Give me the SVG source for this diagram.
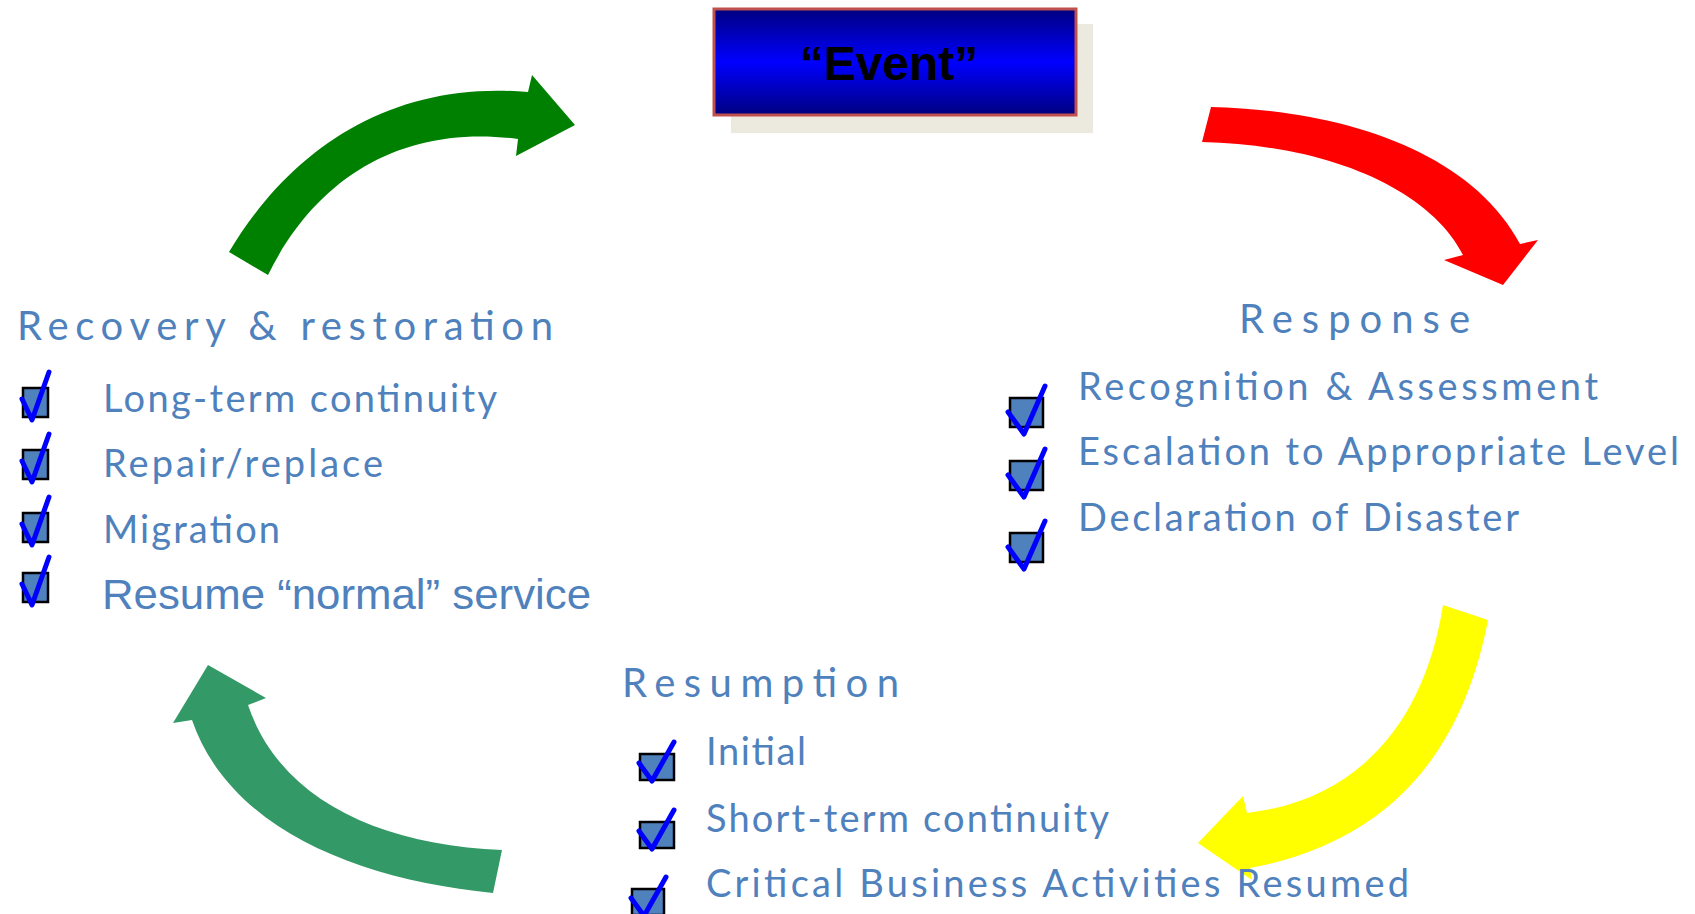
<svg xmlns="http://www.w3.org/2000/svg" width="1695" height="914" viewBox="0 0 1695 914">
<defs>
<linearGradient id="evg" x1="0" y1="0" x2="0" y2="1">
<stop offset="0" stop-color="#000080"/>
<stop offset="0.5" stop-color="#0000FF"/>
<stop offset="1" stop-color="#000080"/>
</linearGradient>
</defs>
<style>
.t{font-family:Lato,"Open Sans","Liberation Sans",sans-serif;fill:#4F81BD;font-size:38px}
.h{font-size:40px}
.a{font-family:"Liberation Sans",Arial,sans-serif;fill:#4F81BD;font-size:43px}
.box{fill:#4F81BD;stroke:#000;stroke-width:2.5}
.chk{fill:none;stroke:#0000FF;stroke-width:5;stroke-linecap:round;stroke-linejoin:round}
</style>
<rect width="1695" height="914" fill="#fff"/>

<g id="connectors">
<path id="arrow-green" fill="#008000" d="M229,252 C290,150 390,80 528,92 L532,75 L575,125 L516,156 L518,139 C410,125 320,170 268,275 Z"/>
<path id="arrow-red" fill="#FF0000" d="M1211,107 C1340,110 1470,150 1520,244 L1538,240 L1503,285 L1444,260 L1463,255 C1430,190 1330,145 1202,142 Z"/>
<path id="arrow-yellow" fill="#FFFF00" d="M1488,620 C1465,740 1400,840 1250,868 L1252,880 L1198,843 L1243,796 L1247,813 C1360,800 1425,720 1443,605 Z"/>
<path id="arrow-seagreen" fill="#339966" d="M493,893 C360,880 230,830 192,720 L173,723 L208,665 L266,698 L248,705 C280,800 380,845 502,850 Z"/>
</g>

<g id="event">
<rect x="731" y="24" width="362" height="109" fill="#ECE9DF"/>
<rect x="714" y="9" width="362" height="106" fill="url(#evg)" stroke="#C0504D" stroke-width="3"/>
<text x="889" y="80" text-anchor="middle" font-family="'Liberation Sans',Arial,sans-serif" font-weight="bold" font-size="48" fill="#000">“Event”</text>
</g>

<g id="recovery">
<text class="t h" x="17" y="340" textLength="536" lengthAdjust="spacing">Recovery &amp; restoration</text>
<rect class="box" x="23" y="388" width="25" height="29"/>
<path class="chk" d="M22,399 L32,420 L49,372"/>
<text class="t" x="103" y="412" textLength="394" lengthAdjust="spacing">Long-term continuity</text>
<rect class="box" x="23" y="450" width="25" height="29"/>
<path class="chk" d="M22,461 L32,482 L49,434"/>
<text class="t" x="103" y="477" textLength="280" lengthAdjust="spacing">Repair/replace</text>
<rect class="box" x="23" y="513" width="25" height="29"/>
<path class="chk" d="M22,524 L32,545 L49,497"/>
<text class="t" x="103" y="543" textLength="177" lengthAdjust="spacing">Migration</text>
<rect class="box" x="23" y="573" width="25" height="29"/>
<path class="chk" d="M22,584 L32,605 L49,557"/>
<text class="a" x="102" y="609" textLength="489" lengthAdjust="spacingAndGlyphs">Resume “normal” service</text>
</g>

<g id="response">
<text class="t h" x="1239" y="333" textLength="231" lengthAdjust="spacing">Response</text>
<rect class="box" x="1010" y="398" width="33" height="29"/>
<path class="chk" d="M1008,412 L1024,434 L1045,386"/>
<text class="t" x="1078" y="400" textLength="520" lengthAdjust="spacing">Recognition &amp; Assessment</text>
<rect class="box" x="1010" y="461" width="33" height="29"/>
<path class="chk" d="M1008,475 L1024,497 L1045,449"/>
<text class="t" x="1078" y="465" textLength="601" lengthAdjust="spacing">Escalation to Appropriate Level</text>
<rect class="box" x="1010" y="533" width="33" height="29"/>
<path class="chk" d="M1008,547 L1024,569 L1045,521"/>
<text class="t" x="1078" y="531" textLength="441" lengthAdjust="spacing">Declaration of Disaster</text>
</g>

<g id="resumption">
<text class="t h" x="622" y="697" textLength="277" lengthAdjust="spacing">Resumption</text>
<rect class="box" x="640" y="754" width="34" height="26"/>
<path class="chk" d="M639,763 L652,781 L674,742"/>
<text class="t" x="706" y="765" textLength="100" lengthAdjust="spacing">Initial</text>
<rect class="box" x="640" y="822" width="34" height="26"/>
<path class="chk" d="M639,831 L652,849 L674,810"/>
<text class="t" x="706" y="832" textLength="403" lengthAdjust="spacing">Short-term continuity</text>
<rect class="box" x="632" y="889" width="32" height="26"/>
<path class="chk" d="M631,898 L644,916 L666,877"/>
<text class="t" x="706" y="897" textLength="703" lengthAdjust="spacing">Critical Business Activities Resumed</text>
</g>
</svg>
